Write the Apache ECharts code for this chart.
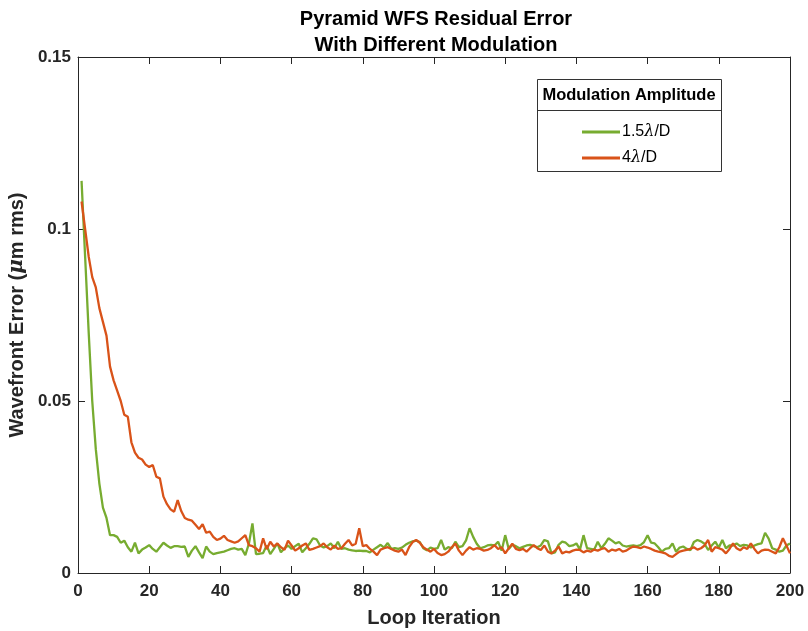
<!DOCTYPE html>
<html><head><meta charset="utf-8">
<script src="https://cdn.jsdelivr.net/npm/echarts@6/dist/echarts.min.js"></script>
<style>html,body{margin:0;padding:0;background:#fff}#c{width:808px;height:631px}</style>
</head><body><div id="c"></div>
<script>
const xTicks = [0,20,40,60,80,100,120,140,160,180,200];
const yTicks = [0,0.05,0.1,0.15];
const seriesNames = ['1.5λ/D','4λ/D'];
const mod15 = [
0.114,0.092,0.070,0.050,0.036,0.026,0.019,0.016,0.011,0.011,
0.0105,0.0088,0.0094,0.0075,0.0062,0.0088,0.0057,0.0068,0.0074,0.0081,
0.0070,0.0062,0.0075,0.0088,0.0080,0.0073,0.0078,0.0078,0.0076,0.0077,
0.0047,0.0065,0.0078,0.0060,0.0043,0.0077,0.0062,0.0055,0.0058,0.0060,
0.0062,0.0066,0.0070,0.0072,0.0068,0.0070,0.0052,0.0085,0.0144,0.0055,
0.0056,0.0058,0.0080,0.0055,0.0070,0.0086,0.0060,0.0072,0.0080,0.0070,
0.0078,0.0085,0.0060,0.0072,0.0085,0.0101,0.0098,0.0080,0.0074,0.0078,
0.0086,0.0072,0.0091,0.0070,0.0072,0.0068,0.0066,0.0064,0.0065,0.0064,
0.0064,0.0060,0.0068,0.0075,0.0082,0.0074,0.0087,0.0070,0.0072,0.0070,
0.0074,0.0082,0.0088,0.0092,0.0094,0.0090,0.0072,0.0066,0.0074,0.0070,
0.0072,0.0096,0.0068,0.0075,0.0072,0.0091,0.0075,0.0078,0.0095,0.0130,
0.0105,0.0085,0.0072,0.0075,0.0080,0.0082,0.0080,0.0091,0.0065,0.0110,
0.0070,0.0082,0.0078,0.0072,0.0076,0.0080,0.0082,0.0078,0.0075,0.0080,
0.0096,0.0092,0.0057,0.0060,0.0082,0.0091,0.0088,0.0078,0.0080,0.0086,
0.0068,0.0110,0.0072,0.0070,0.0068,0.0091,0.0072,0.0085,0.0101,0.0094,
0.0086,0.0090,0.0080,0.0077,0.0079,0.0080,0.0078,0.0081,0.0090,0.0110,
0.0088,0.0086,0.0075,0.0062,0.0070,0.0072,0.0086,0.0062,0.0074,0.0077,
0.0070,0.0066,0.0090,0.0096,0.0092,0.0085,0.0067,0.0080,0.0091,0.0074,
0.0096,0.0072,0.0080,0.0080,0.0086,0.0078,0.0082,0.0080,0.0074,0.0080,
0.0084,0.0086,0.0117,0.0100,0.0072,0.0068,0.0062,0.0065,0.0080,0.0086
];
const mod4 = [
0.108,0.100,0.092,0.086,0.083,0.077,0.073,0.069,0.060,0.056,
0.053,0.050,0.046,0.0454,0.038,0.035,0.0335,0.0330,0.0315,0.0308,
0.0314,0.0280,0.0275,0.0222,0.0200,0.0185,0.0178,0.0212,0.0180,0.0160,
0.0155,0.0152,0.0140,0.0128,0.0142,0.0117,0.0120,0.0105,0.0096,0.0100,
0.0108,0.0096,0.0092,0.0088,0.0092,0.0101,0.0110,0.0081,0.0078,0.0072,
0.0062,0.0101,0.0069,0.0091,0.0077,0.0086,0.0075,0.0067,0.0094,0.0080,
0.0065,0.0072,0.0080,0.0086,0.0067,0.0070,0.0074,0.0078,0.0086,0.0075,
0.0068,0.0080,0.0070,0.0072,0.0085,0.0096,0.0080,0.0085,0.0130,0.0078,
0.0081,0.0070,0.0062,0.0052,0.0068,0.0072,0.0075,0.0070,0.0065,0.0062,
0.0068,0.0052,0.0075,0.0090,0.0096,0.0088,0.0075,0.0068,0.0062,0.0070,
0.0058,0.0052,0.0055,0.0062,0.0075,0.0086,0.0065,0.0052,0.0065,0.0075,
0.0068,0.0072,0.0070,0.0065,0.0067,0.0072,0.0081,0.0070,0.0075,0.0057,
0.0072,0.0085,0.0070,0.0066,0.0070,0.0062,0.0072,0.0081,0.0072,0.0067,
0.0080,0.0062,0.0057,0.0065,0.0077,0.0057,0.0062,0.0060,0.0065,0.0068,
0.0067,0.0060,0.0065,0.0062,0.0068,0.0065,0.0070,0.0072,0.0062,0.0068,
0.0065,0.0070,0.0062,0.0065,0.0072,0.0077,0.0075,0.0072,0.0077,0.0074,
0.0070,0.0065,0.0062,0.0060,0.0057,0.0050,0.0047,0.0055,0.0062,0.0065,
0.0067,0.0070,0.0075,0.0068,0.0072,0.0080,0.0096,0.0062,0.0075,0.0072,
0.0068,0.0057,0.0070,0.0086,0.0072,0.0066,0.0075,0.0070,0.0086,0.0070,
0.0057,0.0065,0.0068,0.0067,0.0062,0.0057,0.0075,0.0101,0.0080,0.0057
];

const font = 'Liberation Sans, Arial, Helvetica, sans-serif';
const axisColor = '#262626';
const toPairs = arr => arr.map((v,i)=>[i+1,v]);
const chart = echarts.init(document.getElementById('c'), null, {renderer:'canvas'});
const axisCommon = {
  type:'value',
  axisLine:{show:true,onZero:false,lineStyle:{color:axisColor,width:1}},
  axisTick:{show:true,inside:true,length:7,lineStyle:{color:axisColor,width:1}},
  splitLine:{show:false}
};
chart.setOption({
  animation:false,
  backgroundColor:'#fff',
  title:{
    text:'Pyramid WFS Residual Error\nWith Different Modulation',
    left:431, textAlign:'center', top:1,
    textStyle:{fontFamily:font,fontWeight:'bold',fontSize:20,color:'#000',lineHeight:26}
  },
  grid:{left:78,right:18,top:57,bottom:58,outerBoundsMode:'none',containLabel:false},
  legend:{
    data:seriesNames, z:200, zlevel:0, padding:0,
    orient:'vertical', left:582, top:124,
    itemWidth:38, itemHeight:3, itemGap:10, icon:'rect',
    formatter: n => n.replace('λ','{i|λ}'),
    textStyle:{fontFamily:font,fontSize:16,color:'#000',padding:[0,0,0,-3],
      rich:{i:{fontFamily:'DejaVu Serif, serif',fontStyle:'italic',fontSize:16,color:'#000'}}}
  },
  graphic:{elements:[
    {type:'rect',z:-10,shape:{x:537.5,y:79.5,width:184,height:92},style:{fill:'#fff',stroke:'#333',lineWidth:1}},
    {type:'line',z:-9,shape:{x1:537.5,y1:110.5,x2:721.5,y2:110.5},style:{stroke:'#333',lineWidth:1}},
    {type:'text',z:-8,x:629,y:95,style:{text:'Modulation Amplitude',fontFamily:font,fontWeight:'bold',fontSize:16.5,fill:'#000',align:'center',verticalAlign:'middle'}}
  ]},
  xAxis:[
    Object.assign({},axisCommon,{min:0,max:200,interval:20,position:'bottom',
      name:'Loop Iteration',nameLocation:'middle',nameGap:35,
      nameTextStyle:{fontFamily:font,fontWeight:'bold',fontSize:20,color:axisColor},
      axisLabel:{fontFamily:font,fontWeight:'bold',fontSize:17,color:axisColor,margin:10}}),
    Object.assign({},axisCommon,{min:0,max:200,interval:20,position:'top',axisLabel:{show:false}})
  ],
  yAxis:[
    Object.assign({},axisCommon,{min:0,max:0.15,interval:0.05,position:'left',
      name:'Wavefront Error ({i|μ}m rms)',nameLocation:'middle',nameGap:46,
      nameTextStyle:{fontFamily:font,fontWeight:'bold',fontSize:20,color:axisColor,
        rich:{i:{fontFamily:'DejaVu Serif, serif',fontStyle:'italic',fontWeight:'bold',fontSize:20,color:axisColor}}},
      axisLabel:{fontFamily:font,fontWeight:'bold',fontSize:17,color:axisColor,margin:7,
        formatter: v => String(v)}}),
    Object.assign({},axisCommon,{min:0,max:0.15,interval:0.05,position:'right',axisLabel:{show:false}})
  ],
  series:[
    {name:seriesNames[0],type:'line',data:toPairs(mod15),showSymbol:false,symbol:'none',
      lineStyle:{color:'#77AC30',width:2.3},itemStyle:{color:'#77AC30'},z:3},
    {name:seriesNames[1],type:'line',data:toPairs(mod4),showSymbol:false,symbol:'none',
      lineStyle:{color:'#D95319',width:2.3},itemStyle:{color:'#D95319'},z:4}
  ]
});
</script></body></html>
